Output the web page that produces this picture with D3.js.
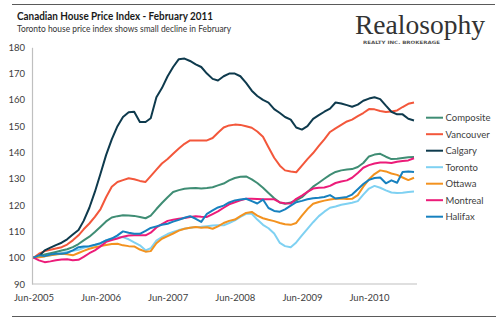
<!DOCTYPE html>
<html>
<head>
<meta charset="utf-8">
<script src="https://cdn.jsdelivr.net/npm/d3@7"></script>
<style>
  body { margin: 0; background: #fff; }
  svg { display: block; }
  .tick-label { font-family: Lato, 'Open Sans', sans-serif; font-size: 9.5px; fill: #404040; }
</style>
</head>
<body>
<div id="chart"></div>
<script>
// Monthly index, Jun 2005 = 100, through Feb 2011
const START = new Date(2005, 5, 1);
const SERIES = ['Composite', 'Vancouver', 'Calgary', 'Toronto', 'Ottawa', 'Montreal', 'Halifax'];
const COLORS = ['#3f8d74', '#f3573b', '#0e3a4d', '#7fd1f2', '#f3921f', '#ec1c79', '#1781bf'];

const composite = [100, 100.6, 101.2, 101.7, 102.2, 102.7, 103.2, 104, 105.2, 106.6, 108, 109.8, 111.8, 113.8, 115.3, 115.8, 116.1, 116, 115.9, 115.5, 115, 116, 118.5, 120.8, 123, 125, 125.7, 126.2, 126.4, 126.5, 126.3, 126.5, 126.8, 127.5, 128.2, 129.4, 130.3, 130.8, 130.9, 129.8, 128.4, 126.6, 124.6, 122.6, 121, 120.5, 121, 121.8, 123, 125, 127, 128.5, 130, 131.5, 132.6, 133.2, 133.5, 133.7, 134.5, 136, 138.5, 139.2, 139.5, 138.4, 137.5, 137.6, 137.9, 138.2, 138.3];
const vancouver = [100, 101.5, 102.5, 103, 103.5, 104, 105, 106.6, 108.5, 110.8, 113, 115.5, 118.5, 123, 127, 128.8, 129.5, 130.2, 129.8, 129.2, 128.8, 131, 133.5, 135.8, 137.5, 139.5, 141.5, 143.3, 144.6, 144.6, 144.6, 144.6, 145.5, 147.5, 149.5, 150.3, 150.6, 150.5, 150, 149.4, 148, 146, 142, 138, 135, 133.2, 132.8, 132.5, 135, 137.5, 139.8, 142.5, 145, 147.8, 149.2, 150.5, 151.8, 152.5, 153.8, 155, 156.5, 156.4, 155.8, 155.4, 155.6, 156, 157.3, 158.5, 159];
const calgary = [100, 100.6, 102.8, 103.8, 104.8, 105.7, 107, 108.8, 110.5, 114, 119, 125, 132, 139, 145, 150, 153.5, 155.3, 155.5, 151.6, 151.6, 153, 161, 164.5, 169, 172.5, 175.5, 175.7, 174.8, 173.5, 172.5, 170, 168, 167.4, 169, 170, 170, 169, 166.5, 163.5, 161.5, 160, 159, 156.5, 155, 153.5, 152.5, 149.5, 148.7, 150, 152.8, 154.2, 155.5, 156.7, 159, 158.6, 158, 157.4, 158.2, 159.7, 160.5, 161, 160.3, 157.8, 155.5, 154.5, 154.5, 152.8, 152.2];
const toronto = [100, 100.3, 100.6, 100.9, 101.3, 101.8, 102.2, 102.6, 103, 103.8, 104.3, 104.7, 105.5, 106.6, 107.3, 107.8, 107.8, 107, 105.8, 104.7, 102.8, 103.6, 106.5, 107.8, 109, 109.8, 110.5, 111, 111.4, 111.7, 111.8, 112, 112.2, 112.3, 112.3, 113.2, 114.2, 115.5, 116.7, 116.7, 114.5, 112.5, 111.2, 109.2, 105.6, 104.4, 104, 105.8, 108.5, 111, 113.5, 115.8, 117.5, 119, 119.5, 120.1, 120.5, 120.9, 121.5, 124, 126.3, 127.3, 126.6, 125.6, 124.8, 124.6, 124.7, 125, 125.2];
const ottawa = [100, 100.2, 100.5, 100.9, 101.2, 101.5, 101.3, 100.9, 101.8, 102.6, 103.4, 104, 104.4, 104.8, 105.2, 105.3, 104.7, 104.4, 104.3, 103.1, 102.3, 102.5, 105.5, 107.2, 108.2, 109.2, 110.3, 111, 111.4, 111.7, 111.4, 111.6, 111, 111.9, 113.2, 114, 114.5, 115.8, 117, 117.4, 116, 115, 114.4, 113.9, 113.2, 112.7, 112.5, 113.2, 116, 118.5, 120.5, 121.2, 121.7, 122.1, 122.4, 122.5, 122.3, 122.4, 123.8, 127, 129.8, 131.8, 133.2, 132.8, 132, 131.5, 130.5, 129.5, 130.4];
const montreal = [100, 99, 98.3, 98.6, 99, 99.3, 99.4, 99, 99.2, 100.3, 101.7, 102.8, 104.3, 106, 106.7, 107.3, 108, 108.4, 108.5, 108.5, 108.5, 109.5, 111.5, 112.8, 114, 114.4, 114.8, 115.1, 115.5, 115.8, 115.6, 115.5, 116.6, 117.6, 119, 120.3, 121.1, 121.8, 122.4, 122.4, 122.3, 122.2, 122.2, 122.2, 121, 120.7, 120.6, 122.4, 123.6, 125, 126.3, 126.6, 126.7, 127.3, 128.4, 129, 129.4, 130.4, 132.2, 134.2, 135.2, 135.8, 136.2, 136.2, 136, 136.5, 136.8, 137, 137.8];
const halifax = [100, 100.9, 100.6, 101.2, 101.5, 101.5, 101.8, 102.8, 104, 104.3, 104.4, 104.9, 105.5, 106.6, 107.3, 108.5, 110, 109.5, 109.1, 109.1, 110.2, 111.3, 111.9, 112.5, 112.9, 113.7, 114.4, 115.2, 115.8, 114.8, 113.6, 116.7, 118, 119.1, 119.8, 121, 121.8, 122.1, 122.4, 121.5, 120.6, 122.1, 118.9, 117.8, 117.5, 118.4, 119.8, 121.1, 121.6, 122.2, 122.6, 122.8, 123.1, 123.8, 122.5, 122.8, 123.1, 124, 126, 128, 129.6, 130.3, 130.5, 128.3, 129.4, 128.5, 132.6, 132.8, 132.6];

const VALUES = [composite, vancouver, calgary, toronto, ottawa, montreal, halifax];
const Y_TICKS = [90, 100, 110, 120, 130, 140, 150, 160, 170, 180];
const X_TICKS = [2005, 2006, 2007, 2008, 2009, 2010].map(y => new Date(y, 5, 1));

const W = 500, H = 322;
const svg = d3.select('#chart').append('svg').attr('width', W).attr('height', H);

const months = d3.range(composite.length).map(i => d3.timeMonth.offset(START, i));

const x = d3.scaleTime()
  .domain([months[0], months[months.length - 1]])
  .range([33.5, 414]);
const y = d3.scaleLinear().domain([90, 180]).range([284, 47.3]);

// frame rules
svg.append('line').attr('x1', 12).attr('x2', 495).attr('y1', 4.5).attr('y2', 4.5)
  .attr('stroke', '#5a5a5a').attr('stroke-width', 1.2);
svg.append('line').attr('x1', 12).attr('x2', 496).attr('y1', 316.5).attr('y2', 316.5)
  .attr('stroke', '#5a5a5a').attr('stroke-width', 1.2);

// titles
svg.append('text').attr('x', 17).attr('y', 19.5)
  .attr('textLength', 196).attr('lengthAdjust', 'spacingAndGlyphs')
  .style('font-family', "Lato, 'Open Sans', sans-serif").style('font-weight', 'bold')
  .style('font-size', '11px').style('fill', '#1a1a1a')
  .text('Canadian House Price Index - February 2011');
svg.append('text').attr('x', 17).attr('y', 32)
  .attr('textLength', 214).attr('lengthAdjust', 'spacingAndGlyphs')
  .style('font-family', "Lato, 'Open Sans', sans-serif")
  .style('font-size', '9px').style('fill', '#333')
  .text('Toronto house price index shows small decline in February');

// logo
svg.append('text').attr('x', 355).attr('y', 34)
  .attr('textLength', 130).attr('lengthAdjust', 'spacingAndGlyphs')
  .style('font-family', "'Liberation Serif', 'DejaVu Serif', serif")
  .style('font-size', '28px').style('fill', '#333')
  .text('Realosophy');
svg.append('text').attr('x', 363).attr('y', 43.5)
  .attr('textLength', 77).attr('lengthAdjust', 'spacingAndGlyphs')
  .style('font-family', "'DejaVu Sans', sans-serif").style('font-weight', 'bold')
  .style('font-size', '4.5px').style('fill', '#555')
  .text('REALTY INC. BROKERAGE');

// axes
const yAxis = svg.append('g').attr('transform', 'translate(32,0)')
  .call(d3.axisLeft(y).tickValues(Y_TICKS).tickSize(0).tickPadding(7));
yAxis.select('.domain').attr('stroke', '#bfbfbf').attr('stroke-width', 1.2);
yAxis.selectAll('text').attr('class', 'tick-label');

const xAxis = svg.append('g').attr('transform', 'translate(0,284)')
  .call(d3.axisBottom(x).tickValues(X_TICKS).tickFormat(d3.timeFormat('%b-%Y')).tickSize(0).tickPadding(10));
xAxis.select('.domain').attr('d', 'M32,0H417').attr('stroke', '#bfbfbf').attr('stroke-width', 1.2);
xAxis.selectAll('text').attr('class', 'tick-label');

// lines
const line = d3.line().x((d, i) => x(months[i])).y(d => y(d));
svg.append('g').selectAll('path')
  .data(VALUES)
  .join('path')
  .attr('d', d => line(d))
  .attr('fill', 'none')
  .attr('stroke', (d, i) => COLORS[i])
  .attr('stroke-width', 2)
  .attr('stroke-linejoin', 'round');

// legend
const legend = svg.append('g').attr('transform', 'translate(426,117.7)');
SERIES.forEach((s, i) => {
  const row = legend.append('g').attr('transform', `translate(0,${i * 16.5})`);
  row.append('line').attr('x1', 0).attr('x2', 17).attr('stroke', COLORS[i]).attr('stroke-width', 2);
  row.append('text').attr('x', 19.5).attr('y', 3.3).attr('class', 'tick-label').text(s);
});
</script>
</body>
</html>
